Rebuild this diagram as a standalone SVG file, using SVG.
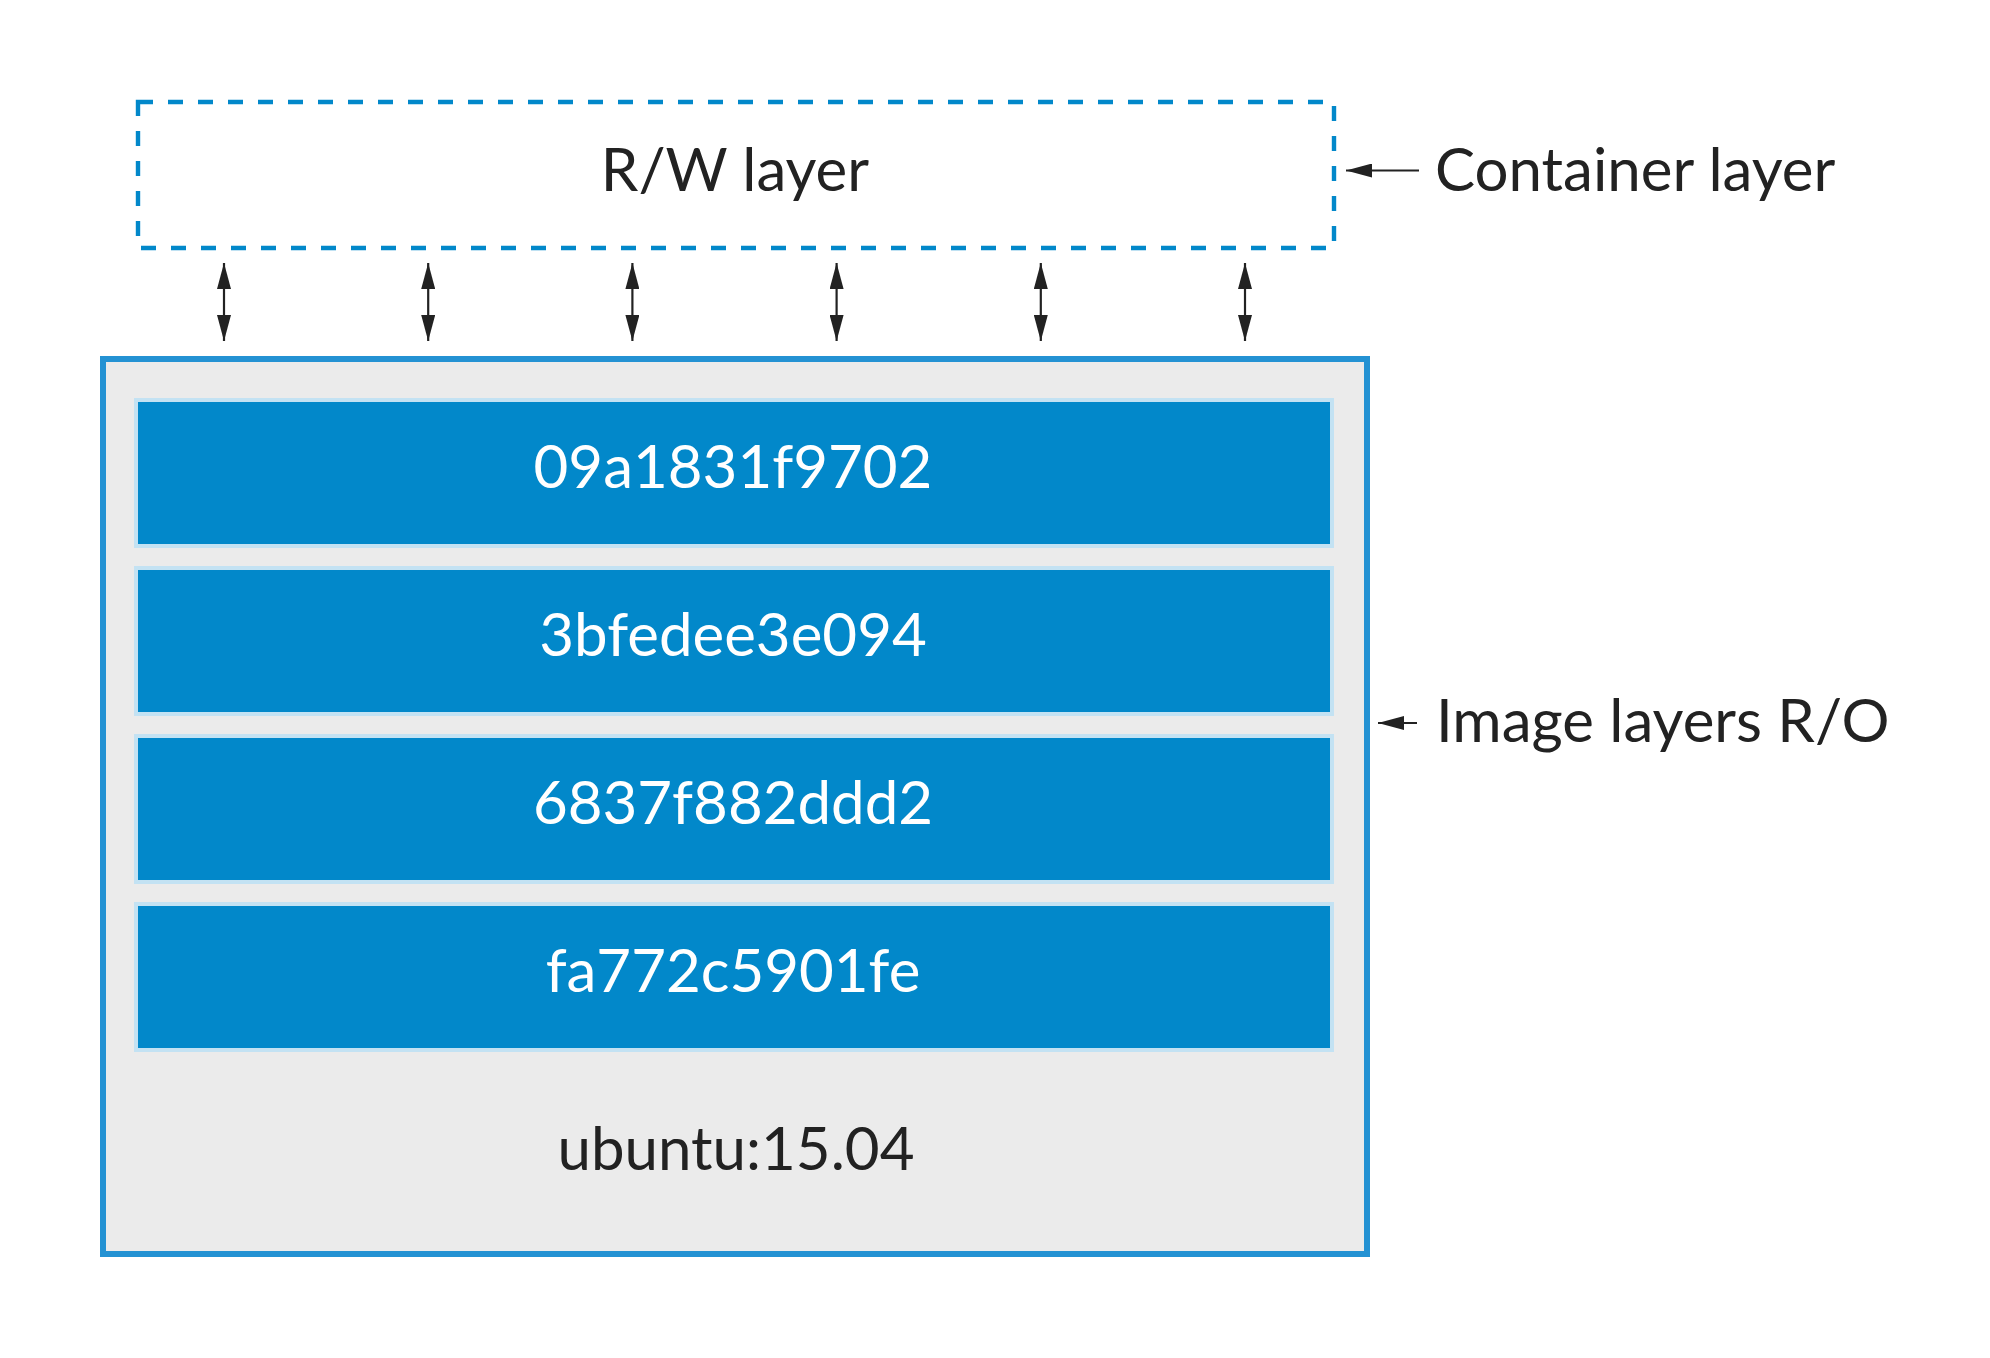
<svg xmlns="http://www.w3.org/2000/svg" width="1990" height="1358" viewBox="0 0 1990 1358">
<style>
text{font-family:Lato,"Open Sans","Liberation Sans",sans-serif;font-size:60px;}
.dark{fill:#222222;}
.light{fill:#ffffff;}
.layer{fill:#0288ca;stroke:#c3e2f3;stroke-width:4;}
.conn{stroke:#222222;stroke-width:2.2;fill:none;}
</style>
<defs>
<marker id="ah" markerUnits="userSpaceOnUse" markerWidth="26" markerHeight="14" viewBox="0 0 26 14" refX="26" refY="7" orient="auto-start-reverse">
<path d="M0,0 L26,7 L0,14 z" fill="#222222"/>
</marker>
</defs>
<rect width="1990" height="1358" fill="#ffffff"/>
<g id="container-layer">
<rect x="138" y="102" width="1196" height="146" fill="none" stroke="#0288ca" stroke-width="4.4" stroke-dasharray="15 15"/>
<text x="735" y="191" text-anchor="middle" class="dark">R/W layer</text>
</g>
<g id="image">
<rect x="103" y="359" width="1264" height="895" fill="#ebebeb" stroke="#2492d3" stroke-width="6"/>
<text x="736" y="1170" text-anchor="middle" class="dark">ubuntu:15.04</text>
</g>
<g id="layer1">
<rect x="136" y="400" width="1196" height="146" class="layer"/>
<text x="733" y="488" text-anchor="middle" class="light">09a1831f9702</text>
</g>
<g id="layer2">
<rect x="136" y="568" width="1196" height="146" class="layer"/>
<text x="733" y="656" text-anchor="middle" class="light">3bfedee3e094</text>
</g>
<g id="layer3">
<rect x="136" y="736" width="1196" height="146" class="layer"/>
<text x="733" y="824" text-anchor="middle" class="light">6837f882ddd2</text>
</g>
<g id="layer4">
<rect x="136" y="904" width="1196" height="146" class="layer"/>
<text x="733" y="992" text-anchor="middle" class="light">fa772c5901fe</text>
</g>
<g id="label-container">
<text x="1435" y="191" class="dark">Container layer</text>
</g>
<g id="label-image">
<text x="1436" y="742" class="dark">Image layers R/O</text>
</g>
<g id="connectors">
<line x1="224" y1="263" x2="224" y2="341" class="conn" marker-start="url(#ah)" marker-end="url(#ah)"/>
<line x1="428.2" y1="263" x2="428.2" y2="341" class="conn" marker-start="url(#ah)" marker-end="url(#ah)"/>
<line x1="632.4" y1="263" x2="632.4" y2="341" class="conn" marker-start="url(#ah)" marker-end="url(#ah)"/>
<line x1="836.6" y1="263" x2="836.6" y2="341" class="conn" marker-start="url(#ah)" marker-end="url(#ah)"/>
<line x1="1040.8" y1="263" x2="1040.8" y2="341" class="conn" marker-start="url(#ah)" marker-end="url(#ah)"/>
<line x1="1245" y1="263" x2="1245" y2="341" class="conn" marker-start="url(#ah)" marker-end="url(#ah)"/>
<line x1="1419" y1="170.5" x2="1346" y2="170.5" class="conn" marker-end="url(#ah)"/>
<line x1="1417" y1="723" x2="1378" y2="723" class="conn" marker-end="url(#ah)"/>
</g>
</svg>
